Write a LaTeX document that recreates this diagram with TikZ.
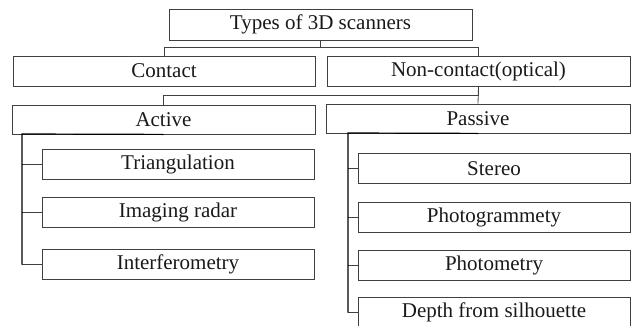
\documentclass[tikz,border=0pt]{standalone}
\usepackage{fontspec}
\setmainfont{Liberation Serif}
\begin{document}
\begin{tikzpicture}[x=1pt,y=-1pt]
                \useasboundingbox (0,0) rectangle (633,325);

                \begin{scope}[every node/.style={rectangle,draw=black!75,line width=0.8pt,
                            inner sep=0pt,minimum height=30pt,text=black!90,
                            font=\fontsize{21}{24}\selectfont}]
                    \node[minimum width=303pt,minimum height=31pt] (types) at (320.5,24.5) {Types of 3D scanners};
                    \node[minimum width=302pt] (contact) at (164,71) {Contact};
                    \node[minimum width=303pt] (noncontact) at (478.5,71) {Non-contact(optical)};
                    \node[minimum width=303pt,minimum height=29pt] (active) at (163.5,119.5) {Active};
                    \node[minimum width=304pt,minimum height=29pt] (passive) at (478,118.5) {Passive};

                    \node[minimum width=272pt] (tri) at (178,164) {Triangulation};
                    \node[minimum width=272pt] (radar) at (178,212.5) {Imaging radar};
                    \node[minimum width=272pt] (interf) at (178,264.5) {Interferometry};

                    \node[minimum width=272pt] (stereo) at (494,168.5) {Stereo};
                    \node[minimum width=272pt] (photog) at (494,217) {Photogrammety};
                    \node[minimum width=272pt] (photom) at (494,265) {Photometry};
                    \node[minimum width=272pt] (depth) at (494,312.5) {Depth from silhouette};
                \end{scope}

                \coordinate (astem) at (22,134);
                \coordinate (pstem) at (348,133);

                \begin{scope}[every path/.style={draw=black!75,line width=0.8pt}]
                    \draw (types.south) -- ++(0,7) coordinate (split);
                    \draw (contact.north) |- (split) -| (noncontact.north);
                    \draw (noncontact.south) -- ++(0,9) -| (active.north);
                    \draw (noncontact.south) -- (passive.north);
                    \foreach \n in {tri,radar,interf}
                        \draw (astem |- \n.west) -- (\n.west);
                    \foreach \n in {stereo,photog,photom,depth}
                        \draw (pstem |- \n.west) -- (\n.west);
                \end{scope}

                \begin{scope}[every path/.style={draw=black,line width=1.2pt}]
                    \draw (active.south) -- (astem) -- (astem |- interf.west);
                    \draw (passive.south) -- (pstem) -- (pstem |- depth.west);
                \end{scope}
            \end{tikzpicture}
\end{document}
